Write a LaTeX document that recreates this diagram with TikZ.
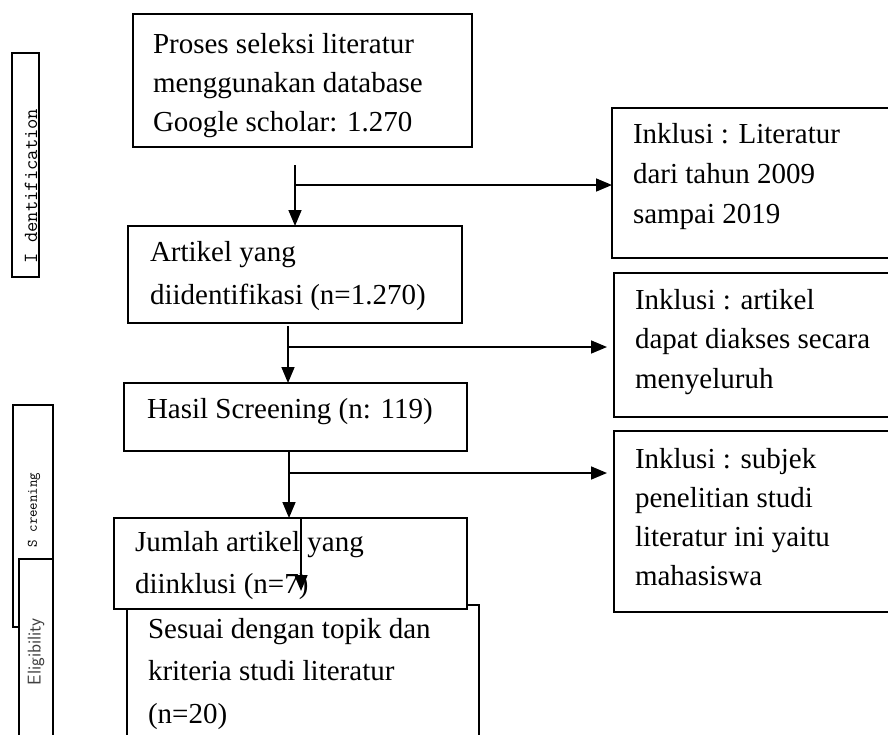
\documentclass[tikz,border=0pt]{standalone}
\usepackage{fontspec}
\setmainfont{Liberation Serif}
\usetikzlibrary{arrows.meta}
\newcommand\mysize[1]{\fontsize{29}{#1}\selectfont}
\begin{document}
\begin{tikzpicture}[x=1pt,y=-1pt,
  box/.style={draw, line width=1.6pt, fill=white, inner sep=0pt, outer sep=0pt, anchor=north west},
  sidebox/.style={draw, line width=1.1pt, fill=white, inner sep=0pt, outer sep=0pt, anchor=north west},
  txt/.style={anchor=north west, inner sep=0pt, outer sep=0pt, align=left},
  arr/.style={line width=1.6pt, -{Triangle[length=16pt,width=13pt]}}]
\useasboundingbox (0,0) rectangle (888,734);
\clip (0,0) rectangle (888,734);
\fill[white] (0,0) rectangle (888,734);
% side boxes
\node[sidebox, minimum width=27pt, minimum height=224pt] (sid) at (12,53) {};
\node[rotate=90, inner sep=0pt, font=\ttfamily\fontsize{20}{20}\selectfont] (lid) at (31,186) {I dentification};
\node[sidebox, minimum width=40pt, minimum height=222pt] (ssc) at (13,405) {};
\node[rotate=90, inner sep=0pt, font=\ttfamily\fontsize{14.5}{14.5}\selectfont] (lsc) at (34,510) {S creening};
\node[sidebox, minimum width=34pt, minimum height=200pt] (sel) at (19,559) {};
\node[rotate=90, inner sep=0pt, text=black!75, font=\sffamily\fontsize{18.5}{18.5}\selectfont] (lel) at (36,652) {Eligibility};
% main boxes
\node[box, minimum width=339pt, minimum height=133pt] (b1) at (133,14) {};
\node[txt, font=\mysize{39}] (t1) at (153,25.7) {\strut Proses seleksi literatur\\menggunakan database\\Google scholar: 1.270};
\node[box, minimum width=334pt, minimum height=97pt] (b2) at (128,226) {};
\node[txt, font=\mysize{43}] (t2) at (150,230.9) {\strut Artikel yang\\diidentifikasi (n=1.270)};
\node[box, minimum width=343pt, minimum height=68pt] (b3) at (124,383) {};
\node[txt, font=\mysize{40}] (t3) at (147,390) {\strut Hasil Screening (n: 119)};
\node[box, minimum width=352pt, minimum height=160pt] (b5) at (127,605) {};
\node[txt, font=\mysize{42.5}] (t5) at (148,608.25) {\strut Sesuai dengan topik dan\\kriteria studi literatur\\(n=20)};
\node[box, minimum width=353pt, minimum height=91pt] (b4) at (114,518) {};
\node[txt, font=\mysize{42}] (t4) at (135,521.6) {\strut Jumlah artikel yang\\diinklusi (n=7)};
% right boxes
\node[box, minimum width=290pt, minimum height=150pt] (i1) at (612,108) {};
\node[txt, font=\mysize{40}] (u1) at (633,115) {\strut Inklusi : Literatur\\dari tahun 2009\\sampai 2019};
\node[box, minimum width=290pt, minimum height=144pt] (i2) at (614,273) {};
\node[txt, font=\mysize{39.5}] (u2) at (635,281.35) {\strut Inklusi : artikel\\dapat diakses secara\\menyeluruh};
\node[box, minimum width=290pt, minimum height=181pt] (i3) at (614,431) {};
\node[txt, font=\mysize{39.3}] (u3) at (635,440.5) {\strut Inklusi : subjek\\penelitian studi\\literatur ini yaitu\\mahasiswa};
% connectors
\coordinate (s1) at (295,165);
\coordinate (j1) at (295,185);
\draw[arr] (s1) -- (s1 |- b2.north);
\draw[arr] (j1) -- (j1 -| i1.west);
\coordinate (s2) at (288,326);
\coordinate (j2) at (288,347);
\draw[arr] (s2) -- (s2 |- b3.north);
\draw[arr, shorten >=7pt] (j2) -- (j2 -| i2.west);
\coordinate (s3) at (289,451);
\coordinate (j3) at (289,473);
\draw[arr] (s3) -- (s3 |- b4.north);
\draw[arr, shorten >=7pt] (j3) -- (j3 -| i3.west);
\coordinate (s4) at (301,518);
\coordinate (e4) at (301,591);
\draw[arr] (s4) -- (e4);
\end{tikzpicture}
\end{document}
